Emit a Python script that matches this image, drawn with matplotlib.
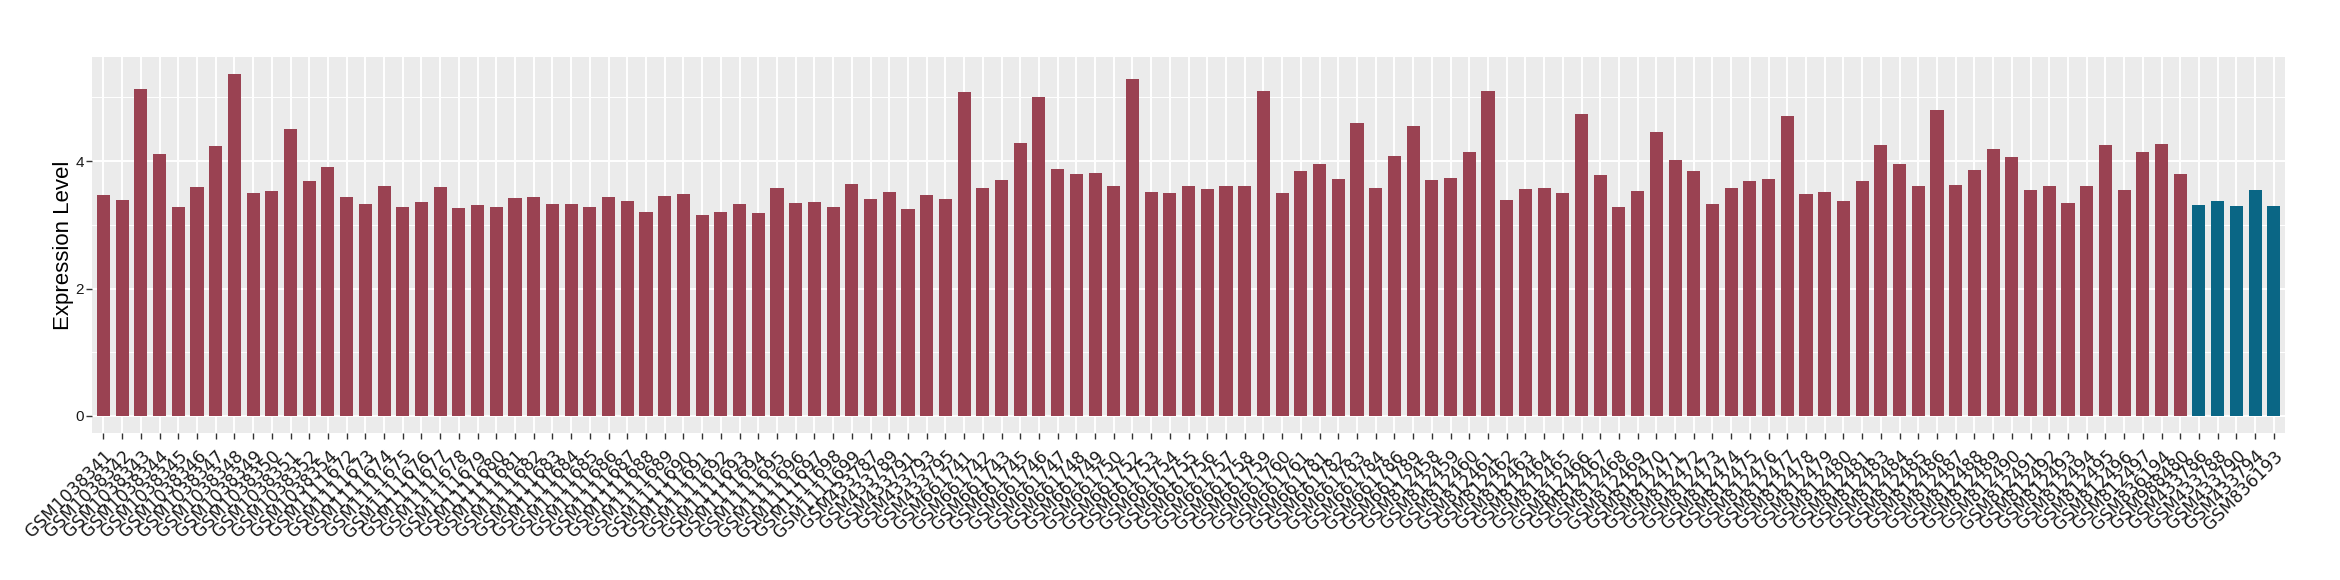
import matplotlib
matplotlib.use("Agg")
import matplotlib.pyplot as plt
from matplotlib.ticker import FixedLocator

plt.rcParams['font.family'] = ['Liberation Sans', 'DejaVu Sans']

samples = (
    [f"GSM10383{n}" for n in range(41, 53)] + ["GSM1038354"]
    + [f"GSM11116{n}" for n in range(72, 100)]
    + ["GSM433787", "GSM433789", "GSM433791", "GSM433793", "GSM433795"]
    + ["GSM661741", "GSM661742", "GSM661743", "GSM661745", "GSM661746",
       "GSM661747", "GSM661748", "GSM661749", "GSM661750", "GSM661752",
       "GSM661753", "GSM661754", "GSM661755", "GSM661756", "GSM661757",
       "GSM661758", "GSM661759", "GSM661760", "GSM661761", "GSM661781",
       "GSM661782", "GSM661783", "GSM661784", "GSM661786", "GSM661789"]
    + [f"GSM8124{n}" for n in range(58, 82)]
    + [f"GSM8124{n}" for n in range(83, 98)]
    + ["GSM836194", "GSM988480"]
    + ["GSM433786", "GSM433788", "GSM433790", "GSM433794", "GSM836193"]
)

expression = [
    3.47, 3.39, 5.13, 4.11, 3.28, 3.59, 4.24, 5.37, 3.50, 3.53,
    4.50, 3.69, 3.91, 3.44, 3.33, 3.61, 3.28, 3.36, 3.59, 3.26,
    3.31, 3.28, 3.42, 3.44, 3.33, 3.33, 3.28, 3.44, 3.37, 3.20,
    3.45, 3.48, 3.15, 3.20, 3.33, 3.18, 3.58, 3.34, 3.36, 3.28,
    3.64, 3.40, 3.51, 3.25, 3.47, 3.40, 5.08, 3.58, 3.70, 4.28,
    5.00, 3.87, 3.80, 3.81, 3.61, 5.29, 3.51, 3.50, 3.61, 3.56,
    3.61, 3.61, 5.10, 3.50, 3.84, 3.95, 3.72, 4.60, 3.58, 4.08,
    4.55, 3.70, 3.73, 4.14, 5.10, 3.39, 3.56, 3.58, 3.50, 4.74,
    3.78, 3.28, 3.53, 4.46, 4.02, 3.84, 3.33, 3.58, 3.69, 3.72,
    4.71, 3.48, 3.51, 3.37, 3.69, 4.25, 3.95, 3.61, 4.80, 3.62,
    3.86, 4.19, 4.06, 3.55, 3.61, 3.34, 3.61, 4.25, 3.55, 4.14,
    4.27, 3.80, 3.31, 3.37, 3.29, 3.55, 3.29,
]

group = ["case"] * 112 + ["control"] * 5
palette = {"case": "#9A4252", "control": "#0A6685"}

fig = plt.figure(figsize=(23.4, 5.8), dpi=100)
ax = fig.add_axes([0.0394, 0.2534, 0.9371, 0.6488])
ax.set_facecolor("#EBEBEB")

x = list(range(len(samples)))
ax.bar(x, expression, width=0.7, color=[palette[g] for g in group], zorder=3)

ymax = max(expression)
ax.set_ylim(-0.05 * ymax, 1.05 * ymax)
ax.set_xlim(-0.6, len(samples) - 0.4)

ax.yaxis.set_major_locator(FixedLocator([0, 2, 4]))
ax.yaxis.set_minor_locator(FixedLocator([1, 3, 5]))
ax.grid(which="major", axis="both", color="white", linewidth=1.4, zorder=1)
ax.grid(which="minor", axis="y", color="white", linewidth=0.7, zorder=1)

ax.set_xticks(x)
ax.set_xticklabels(samples, rotation=45, ha="right", va="top",
                   rotation_mode="anchor", fontsize=12.3, color="#1a1a1a",
                   family=["DejaVu Sans"])
ax.tick_params(axis="x", which="major", length=4, width=1, color="#333333", pad=6)
ax.tick_params(axis="y", which="major", length=4, width=1, color="#333333",
               labelsize=11, labelcolor="#1a1a1a", pad=2)
ax.tick_params(axis="y", which="minor", length=0)

for s in ax.spines.values():
    s.set_visible(False)

ax.set_ylabel("Expression Level", fontsize=16, color="black", labelpad=1)

fig.savefig("out.png", dpi=100, facecolor="white")
